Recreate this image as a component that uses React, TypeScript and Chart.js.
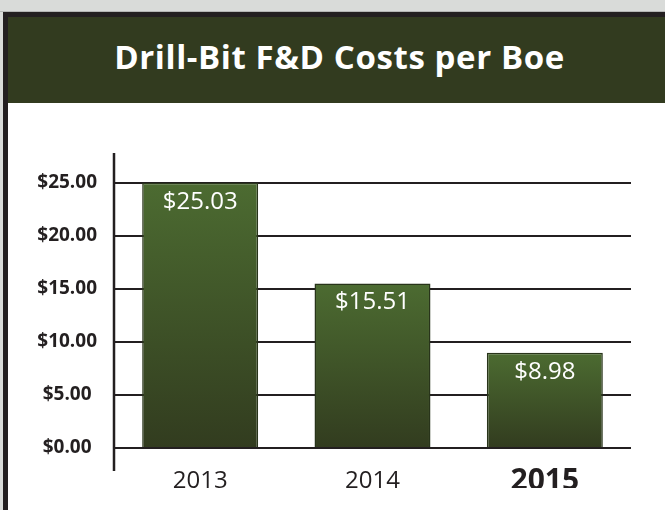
import React, { useEffect, useRef } from "react";
import { Chart, registerables } from "chart.js";

Chart.register(...registerables);

const title = "Drill-Bit F&D Costs per Boe";
const categories = ["2013", "2014", "2015"];
const costs = [25.03, 15.51, 8.98];
const valueLabels = ["$25.03", "$15.51", "$8.98"];
const yTickValues = [0, 5, 10, 15, 20, 25];
const yTickLabels = ["$0.00", "$5.00", "$10.00", "$15.00", "$20.00", "$25.00"];

const FONT = "'Open Sans', 'Noto Sans', sans-serif";
const INK = "#231f20";

export default function App() {
  const ref = useRef<HTMLCanvasElement>(null);

  useEffect(() => {
    document.documentElement.style.overflow = "hidden";
    document.body.style.margin = "0";
    const canvas = ref.current;
    if (!canvas) return;

    const valueLabelPlugin = {
      id: "valueLabels",
      afterDatasetsDraw(chart: any) {
        const { ctx } = chart;
        const meta = chart.getDatasetMeta(0);
        ctx.save();
        ctx.fillStyle = "#ffffff";
        ctx.font = `24px ${FONT}`;
        ctx.textAlign = "center";
        ctx.textBaseline = "middle";
        meta.data.forEach((el: any, i: number) => {
          ctx.fillText(valueLabels[i], el.x, el.y + 19);
        });
        ctx.restore();
      },
    };

    const axisLinePlugin = {
      id: "axisLine",
      beforeDatasetsDraw(chart: any) {
        const { ctx, chartArea } = chart;
        ctx.save();
        ctx.strokeStyle = INK;
        ctx.lineWidth = 2.5;
        ctx.beginPath();
        ctx.moveTo(chartArea.left, chartArea.top);
        ctx.lineTo(chartArea.left, chartArea.bottom + 23);
        ctx.stroke();
        ctx.restore();
      },
    };

    const chart = new Chart(canvas, {
      type: "bar",
      data: {
        labels: categories,
        datasets: [
          {
            data: costs,
            backgroundColor: (c: any) => {
              const ch = c.chart;
              const y = ch.scales && ch.scales.y;
              if (!y || typeof c.raw !== "number") return "#3f5328";
              const top = y.getPixelForValue(c.raw);
              const base = y.getPixelForValue(0);
              if (!isFinite(top) || !isFinite(base) || top === base) return "#3f5328";
              const g = ch.ctx.createLinearGradient(0, top, 0, base);
              g.addColorStop(0, "#4c6b31");
              g.addColorStop(1, "#323c1f");
              return g;
            },
            borderColor: "#28341a",
            borderWidth: 1.5,
            categoryPercentage: 1,
            barPercentage: 0.673,
          },
        ],
      },
      options: {
        responsive: false,
        animation: false,
        devicePixelRatio: 1,
        layout: { padding: { left: 20, top: 153, right: 34, bottom: 22 } },
        plugins: {
          legend: { display: false },
          tooltip: { enabled: false },
          title: { display: false },
        },
        scales: {
          x: {
            grid: { display: false, drawTicks: false },
            border: { display: false },
            ticks: {
              color: INK,
              padding: 21,
              font: (c: any) =>
                c.index === 2
                  ? { family: FONT, size: 30, weight: "bold", lineHeight: "24px" }
                  : { family: FONT, size: 24, lineHeight: "24px" },
            },
            afterFit: (s: any) => {
              s.height = 40;
            },
          },
          y: {
            min: 0,
            max: 27.83,
            afterBuildTicks: (s: any) => {
              s.ticks = yTickValues.map((v) => ({ value: v }));
            },
            grid: { color: INK, lineWidth: 2, drawTicks: false },
            border: { display: false },
            ticks: {
              color: INK,
              padding: 17,
              crossAlign: "center",
              font: { family: FONT, size: 19, weight: "bold" },
              callback: (_v: any, i: number) => yTickLabels[i],
            },
            afterFit: (s: any) => {
              s.width = 94;
            },
          },
        },
      },
      plugins: [axisLinePlugin, valueLabelPlugin],
    } as any);

    return () => chart.destroy();
  }, []);

  return (
    <div
      style={{
        position: "fixed",
        left: 0,
        top: 0,
        width: 665,
        height: 510,
        background: "#ffffff",
        overflow: "hidden",
      }}
    >
      <div style={{ position: "absolute", left: 0, top: 0, width: 665, height: 11, background: "#d9dbd9" }} />
      <div style={{ position: "absolute", left: 0, top: 11, width: 3, height: 499, background: "#d9dbd9" }} />
      <div style={{ position: "absolute", left: 0, top: 11, width: 665, height: 1, background: "#b4b6b4" }} />
      <div style={{ position: "absolute", left: 3, top: 12, width: 662, height: 5, background: INK }} />
      <div style={{ position: "absolute", left: 3, top: 12, width: 5, height: 498, background: INK }} />
      <div style={{ position: "absolute", left: 8, top: 17, width: 657, height: 86, background: "#323b1f" }} />
      <div
        style={{
          position: "absolute",
          left: 8,
          top: 14,
          width: 663,
          height: 86,
          lineHeight: "86px",
          textAlign: "center",
          color: "#ffffff",
          fontFamily: FONT,
          fontWeight: 700,
          fontSize: 33,
          letterSpacing: "0.6px",
          whiteSpace: "nowrap",
        }}
      >
        {title}
      </div>
      <canvas
        ref={ref}
        width={665}
        height={510}
        style={{ position: "absolute", left: 0, top: 0, width: 665, height: 510 }}
      />
    </div>
  );
}
